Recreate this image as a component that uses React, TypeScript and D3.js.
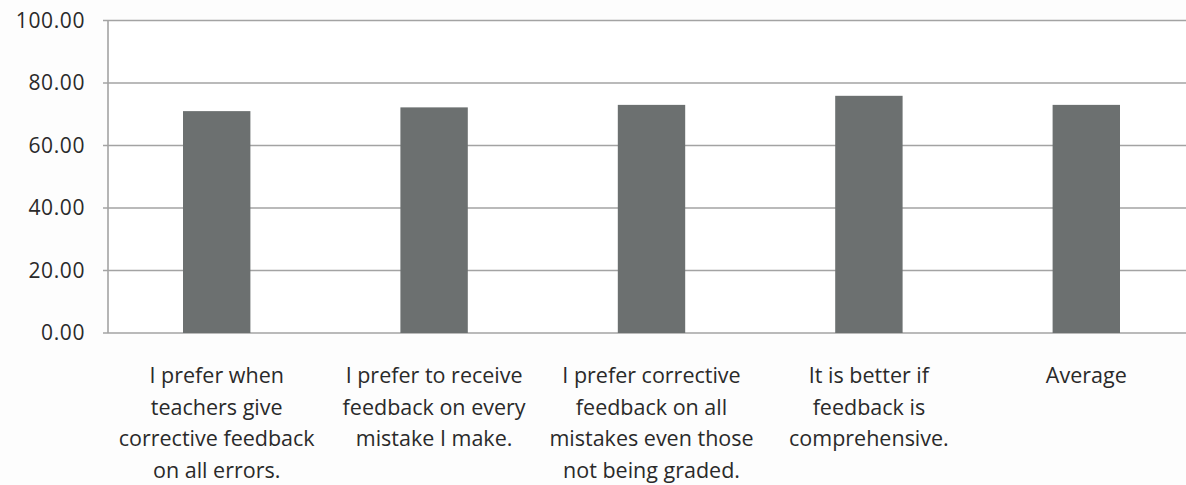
import React from "react";
import * as d3 from "d3";

const categories: string[][] = [
  ["I prefer when", "teachers give", "corrective feedback", "on all errors."],
  ["I prefer to receive", "feedback on every", "mistake I make."],
  ["I prefer corrective", "feedback on all", "mistakes even those", "not being graded."],
  ["It is better if", "feedback is", "comprehensive."],
  ["Average"],
];
const values: number[] = [71.0, 72.2, 73.0, 75.9, 73.0];
const yTicks: number[] = [0, 20, 40, 60, 80, 100];

const W = 1186;
const H = 485;
const left = 108;
const right = 1195;
const top = 20.5;
const bottom = 333;

export default function App() {
  const x = d3
    .scaleBand<number>()
    .domain(values.map((_, i) => i))
    .range([left, right])
    .paddingInner(0.69)
    .paddingOuter(0.345);
  const y = d3.scaleLinear().domain([0, 100]).range([bottom, top]);
  const font = "'Open Sans', Lato, sans-serif";
  return (
    <svg
      width={W}
      height={H}
      style={{ position: "absolute", left: 0, top: 0, background: "#fdfdfd" }}
    >
      <rect x={0} y={0} width={W} height={H} fill="#fdfdfd" />
      <rect x={left} y={top} width={right - left} height={bottom - top} fill="#ffffff" />
      {yTicks.map((t) => (
        <g key={t}>
          <line
            x1={left - 5}
            x2={right}
            y1={y(t)}
            y2={y(t)}
            stroke="#a3a3a3"
            strokeWidth={1.6}
          />
          <text
            x={85}
            y={y(t)}
            dy="0.35em"
            textAnchor="end"
            fontFamily={font}
            fontSize={21}
            letterSpacing={0.6}
            fill="#2a2a2a"
          >
            {t.toFixed(2)}
          </text>
        </g>
      ))}
      <line x1={left} x2={left} y1={top} y2={bottom} stroke="#a3a3a3" strokeWidth={1.6} />
      {values.map((v, i) => (
        <rect
          key={i}
          x={x(i)}
          y={y(v)}
          width={x.bandwidth()}
          height={bottom - y(v)}
          fill="#6c7070"
        />
      ))}
      {categories.map((lines, i) => {
        const cx = (x(i) as number) + x.bandwidth() / 2;
        return (
          <text
            key={i}
            textAnchor="middle"
            fontFamily={font}
            fontSize={21.5}
            fill="#2a2a2a"
          >
            {lines.map((l, j) => (
              <tspan key={j} x={cx} y={383 + j * 31.7}>
                {l}
              </tspan>
            ))}
          </text>
        );
      })}
    </svg>
  );
}
